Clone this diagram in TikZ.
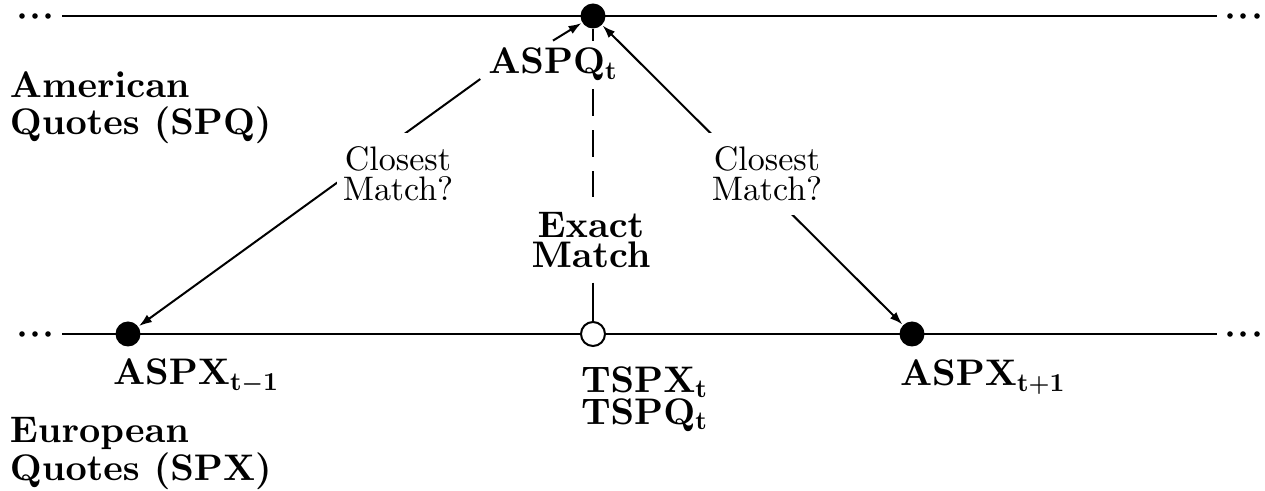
\documentclass[tikz,border=0pt]{standalone}
\usepackage[OT1]{fontenc}
% Computer Modern at its 10pt design size, scaled to any size
\DeclareFontFamily{OT1}{cmten}{\hyphenchar\font=-1}
\DeclareFontShape{OT1}{cmten}{m}{n}{<-> cmr10}{}
\DeclareFontShape{OT1}{cmten}{bx}{n}{<-> cmbx10}{}
\DeclareFontShape{OT1}{cmten}{b}{n}{<-> ssub * cmten/bx/n}{}
\renewcommand{\rmdefault}{cmten}
\DeclareMathAlphabet{\mathbf}{OT1}{cmten}{bx}{n}
\usetikzlibrary{arrows.meta}
\begin{document}
\begin{tikzpicture}[x=0.5pt, y=-0.5pt, line width=1pt,
  big/.style={font=\fontsize{18.5}{18.75}\selectfont\bfseries\boldmath, inner sep=0pt},
  side/.style={big, align=left, anchor=north west},
  match/.style={font=\fontsize{17}{15}\selectfont, align=center, fill=white,
    inner xsep=3pt, inner ysep=7pt},
  exactlbl/.style={font=\fontsize{18.5}{15}\selectfont\bfseries, align=center,
    inner xsep=3pt, inner ysep=7pt},
  fulldot/.style={circle, fill=black, minimum size=12.5pt, inner sep=0pt},
  opendot/.style={circle, draw=black, fill=white, minimum size=12pt, inner sep=0pt},
  smalldot/.style={circle, fill=black, minimum size=2.8pt, inner sep=0pt},
  tip/.style={-{Latex[length=6.5pt,width=4.5pt]}},
  bothtips/.style={{Latex[length=6.5pt,width=4.5pt]}-{Latex[length=6.5pt,width=4.5pt]}},
  longdash/.style={dash pattern=on 13.5pt off 7pt}]
\useasboundingbox (0,0) rectangle (1265,491);

% the two quote time lines
\coordinate (aL) at (62,16);  \coordinate (aR) at (1217,16);
\coordinate (eL) at (62,334); \coordinate (eR) at (1217,334);
\draw (aL) -- (aR);
\draw (eL) -- (eR);

% continuation dots at both ends
\foreach \x [count=\i] in {22,35,48} {
  \node[smalldot] (al\i) at (\x,16) {};
  \node[smalldot] (el\i) at (\x,334) {};
}
\foreach \x [count=\i] in {1230,1243,1257} {
  \node[smalldot] (ar\i) at (\x,16) {};
  \node[smalldot] (er\i) at (\x,334) {};
}

% quote events
\node[fulldot] (dotT) at (593,16) {};
\node[fulldot] (dotL) at (128,334) {};
\node[opendot] (dotM) at (593,334) {};
\node[fulldot] (dotR) at (912,334) {};

% labels
\node[big, inner sep=3.5pt, anchor=base] (aspq) at (553,74) {ASPQ$_{\mathbf{t}}$};
\node[big, anchor=base west] (aspxl) at (112,385) {ASPX$_{\mathbf{t-1}}$};
\node[big, anchor=base west] (aspxr) at (899,386) {ASPX$_{\mathbf{t+1}}$};
\node[side, font=\fontsize{18.5}{16}\selectfont\bfseries\boldmath] (tsp) at (580,366) {TSPX$_{\mathbf{t}}$\\TSPQ$_{\mathbf{t}}$};
\node[side] (amer) at (9,70.5) {American\\Quotes (SPQ)};
\node[side] (euro) at (9,416.5) {European\\Quotes (SPX)};
\node[exactlbl] (exact) at (591,240) {Exact\\Match};

% connectors
\draw (dotT) -- (aspq.north -| dotT);
\draw[longdash] (aspq.south -| dotT) -- (exact.north -| dotT);
\draw (exact.south -| dotM) -- (dotM);
\draw[tip] (aspq.north) -- (dotT);
\draw[tip] (aspq.191) -- (dotL);
\draw[bothtips] (dotT) -- (dotR);

% labels sitting on the diagonal connectors
\node[match] (cml) at (398,174) {Closest\\Match?};
\node[match] (cmr) at (767,174) {Closest\\Match?};
\end{tikzpicture}
\end{document}
